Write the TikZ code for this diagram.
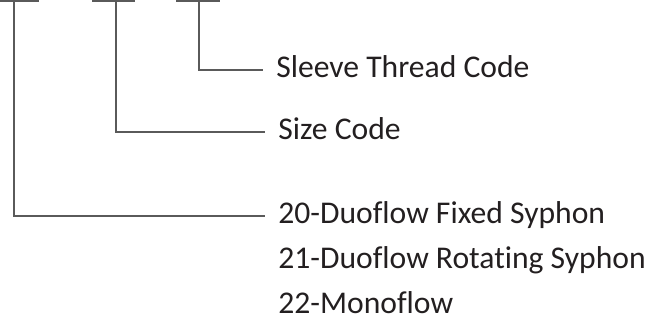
\documentclass[tikz,border=0pt]{standalone}
\usepackage{fontspec}
\setmainfont{Carlito}[Ligatures={TeX,NoCommon}]
\usetikzlibrary{positioning}
\definecolor{wiregray}{HTML}{5A5A5A}
\definecolor{textdark}{HTML}{231F20}

\begin{document}
\begin{tikzpicture}[
  x=0.02cm, y=-0.02cm,
  code/.style={anchor=west, inner xsep=0.26cm, inner ysep=0pt, text height=0.88em, text depth=0pt, text=textdark, font=\fontsize{18}{22}\selectfont},
  bar/.style={draw=wiregray, line width=1.1pt},
  wire/.style={draw=wiregray, line width=0.8pt}
]
  \useasboundingbox (0,0) rectangle (650,326);

  % bars for the three code positions
  \coordinate (b1a) at (0,1);   \coordinate (b1b) at (39,1);  \coordinate (t1) at (14,1);
  \coordinate (b2a) at (92,1);  \coordinate (b2b) at (135,1); \coordinate (t2) at (116,1);
  \coordinate (b3a) at (176,1); \coordinate (b3b) at (220,1); \coordinate (t3) at (199,1);

  \node[code] (thread) at (263,70) {Sleeve Thread Code};
  \node[code] (size) at (265,132) {Size Code};
  \node[code] (t20) at (265,216) {20-Duoflow Fixed Syphon};
  \node[code, below=0.9cm of t20.west, anchor=west] (t21) {21-Duoflow Rotating Syphon};
  \node[code, below=0.9cm of t21.west, anchor=west] (t22) {22-Monoflow};

  \draw[bar] (b1a) -- (b1b);
  \draw[bar] (b2a) -- (b2b);
  \draw[bar] (b3a) -- (b3b);

  \draw[wire] (t3) |- (thread.west);
  \draw[wire] (t2) |- (size.west);
  \draw[wire] (t1) |- (t20.west);
\end{tikzpicture}
\end{document}
